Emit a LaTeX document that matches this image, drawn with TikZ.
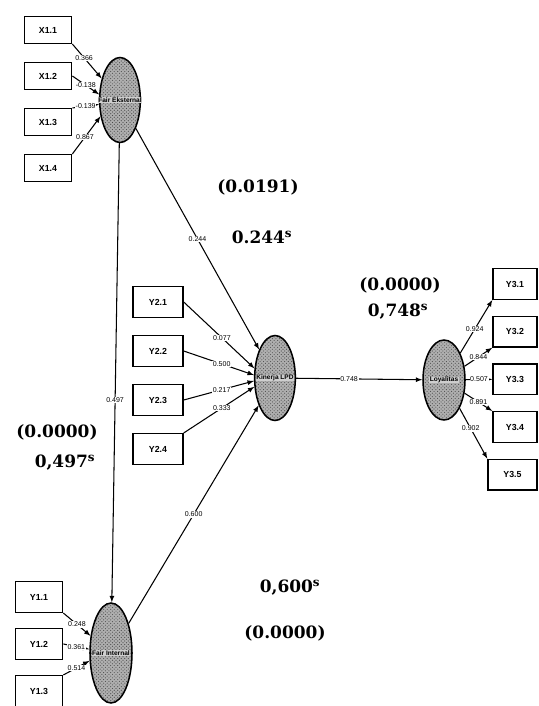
\documentclass[tikz,border=0pt]{standalone}
\usepackage{fontspec}
\setmainfont{Liberation Sans}
\newfontfamily\statfont{DejaVu Serif}
\usetikzlibrary{shapes,arrows,positioning,calc,patterns}
\definecolor{speck}{RGB}{175,175,175}

\tikzset{
  ind/.style={draw, line width=1.2pt, minimum width=1.42cm, minimum height=0.92cm, inner sep=0pt, font=\bfseries\fontsize{7.5}{8}\selectfont},
  lat/.style={ellipse, draw, line width=1.3pt, preaction={fill=speck}, pattern=crosshatch dots, pattern color=black!70, inner sep=0pt, minimum width=1.22cm},
  lbl/.style={font=\bfseries\fontsize{5.6}{6}\selectfont, inner sep=0.3pt, fill=speck!60},
  coef/.style={fill=white, inner sep=0.6pt, font=\fontsize{6}{6}\selectfont},
  rel/.style={->, >=latex, line width=0.9pt},
  stat/.style={font=\statfont\bfseries\fontsize{14.5}{16}\selectfont}
}

\begin{document}
\begin{tikzpicture}[x=0.03cm, y=-0.03cm, node distance=1.43cm]
    \useasboundingbox (0,0) rectangle (539,706);

    % latent variables
    \node[lat, minimum height=2.55cm, label={[lbl]center:Fair Eksternal}] (fe) at (120,100) {};
    \node[lat, minimum height=2.55cm, label={[lbl]center:Kinerja LPD}] (kl) at (275,378) {};
    \node[lat, minimum width=1.26cm, minimum height=2.4cm, label={[lbl]center:Loyalitas}] (lo) at (444,380) {};
    \node[lat, minimum width=1.26cm, minimum height=3cm, label={[lbl]center:Fair Internal}] (fi) at (111,653) {};

    % indicators
    \node[ind, minimum height=0.8cm] (x11) at (48,30) {X1.1};
    \node[ind, minimum height=0.8cm, below of=x11, node distance=1.38cm] (x12) {X1.2};
    \node[ind, minimum height=0.8cm, below of=x12, node distance=1.38cm] (x13) {X1.3};
    \node[ind, minimum height=0.8cm, below of=x13, node distance=1.38cm] (x14) {X1.4};

    \node[ind, minimum width=1.5cm] (y21) at (158,302) {Y2.1};
    \node[ind, minimum width=1.5cm, below of=y21, node distance=1.47cm] (y22) {Y2.2};
    \node[ind, minimum width=1.5cm, below of=y22, node distance=1.47cm] (y23) {Y2.3};
    \node[ind, minimum width=1.5cm, below of=y23, node distance=1.47cm] (y24) {Y2.4};

    \node[ind, minimum width=1.32cm] (y31) at (515,284) {Y3.1};
    \node[ind, minimum width=1.32cm, below of=y31] (y32) {Y3.2};
    \node[ind, minimum width=1.32cm, below of=y32] (y33) {Y3.3};
    \node[ind, minimum width=1.32cm, below of=y33] (y34) {Y3.4};
    \node[ind, minimum width=1.47cm, below of=y34, xshift=-0.075cm] (y35) {Y3.5};

    \node[ind] (y11) at (39,597) {Y1.1};
    \node[ind, below of=y11, node distance=1.41cm] (y12) {Y1.2};
    \node[ind, below of=y12, node distance=1.41cm] (y13) {Y1.3};

    % estimates
    \node[stat] (p1) at (258,187) {(0.0191)};
    \node[stat] (b1) at (262,237) {0.244\textsuperscript{s}};
    \node[stat] (p2) at (400,285) {(0.0000)};
    \node[stat] (b2) at (398,312) {0,748\textsuperscript{s}};
    \node[stat] (p3) at (57,432) {(0.0000)};
    \node[stat] (b3) at (65,463) {0,497\textsuperscript{s}};
    \node[stat] (b4) at (290,588) {0,600\textsuperscript{s}};
    \node[stat] (p4) at (285,633) {(0.0000)};

    % outer loadings
    \draw[rel] (x11.south east) -- node[coef, pos=0.4] {0.366} (fe);
    \draw[rel] (x12.east) -- node[coef] {-0.138} (fe.165);
    \draw[rel] (x13.north east) -- node[coef] {-0.139} (fe.192);
    \draw[rel] (x14.north east) -- node[coef, pos=0.45] {0.867} (fe.220);

    \draw[rel] (y21.east) -- node[coef, pos=0.54] {0.077} (kl.155);
    \draw[rel] (y22.east) -- node[coef, pos=0.54] {0.500} (kl.172);
    \draw[rel] (y23.east) -- node[coef, pos=0.54] {0.217} (kl.188);
    \draw[rel] (y24.north east) -- node[coef, pos=0.54] {0.333} (kl.203);

    \draw[rel] (lo) -- node[coef, pos=0.45] {0.924} (y31.south west);
    \draw[rel] (lo) -- node[coef] {0.844} (y32.south west);
    \draw[rel] (lo) -- node[coef] {0.507} (y33.west);
    \draw[rel] (lo) -- node[coef] {0.891} (y34.north west);
    \draw[rel] (lo) -- node[coef, pos=0.4] {0.902} (y35.north west);

    \draw[rel] (y11.south east) -- node[coef] {0.248} (fi.140);
    \draw[rel] (y12.east) -- node[coef] {0.361} (fi.170);
    \draw[rel] (y13.north east) -- node[coef] {0.514} (fi.200);

    % inner paths
    \draw[rel] (fe) -- node[coef] {0.244} (kl);
    \draw[rel] (fe) -- node[coef, pos=0.56] {0.497} (fi);
    \draw[rel] (fi) -- node[coef] {0.600} (kl);
    \draw[rel] (kl) -- node[coef, pos=0.42] {0.748} (lo);
\end{tikzpicture}
\end{document}
